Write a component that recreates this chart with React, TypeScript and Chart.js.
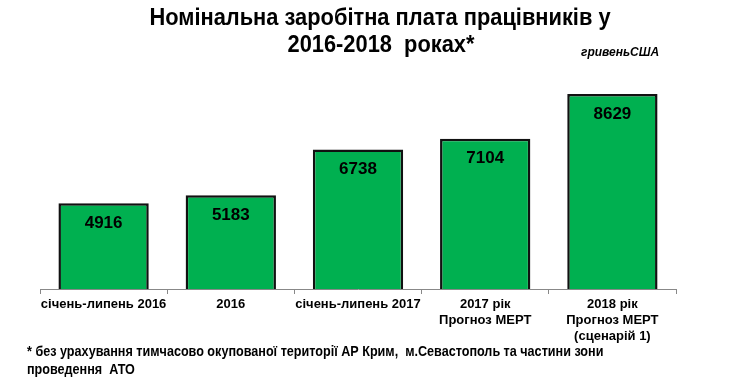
import React, { useEffect, useRef } from "react";
import { Chart, registerables } from "chart.js";

Chart.register(...registerables);

const categories: string[][] = [
  ["січень-липень 2016"],
  ["2016"],
  ["січень-липень 2017"],
  ["2017 рік", "Прогноз МЕРТ"],
  ["2018 рік", "Прогноз МЕРТ", "(сценарій 1)"],
];
const values: number[] = [4916, 5183, 6738, 7104, 8629];
const titleLines: string[] = ["Номінальна заробітна плата працівників у", "2016-2018  роках*"];
const unitLabel = "гривеньСША";
const footnoteLines: string[] = [
  "* без урахування тимчасово окупованої території АР Крим,  м.Севастополь та частини зони",
  "проведення  АТО",
];

const SANS = '"Liberation Sans", Arial, sans-serif';

function fillCondensed(ctx: any, text: string, x: number, y: number, sx: number) {
  ctx.save();
  ctx.translate(x, y);
  ctx.scale(sx, 1);
  ctx.fillText(text, 0, 0);
  ctx.restore();
}

const decorPlugin = {
  id: "decor",
  afterDraw(chart: any) {
    const ctx = chart.ctx;
    ctx.save();
    ctx.fillStyle = "#000";
    ctx.textAlign = "center";
    ctx.textBaseline = "middle";
    ctx.font = `bold 24px ${SANS}`;
    fillCondensed(ctx, titleLines[0], 380, 18, 0.91);
    fillCondensed(ctx, titleLines[1], 381, 45, 0.91);
    ctx.font = `italic bold 12px ${SANS}`;
    ctx.textAlign = "left";
    ctx.fillText(unitLabel, 581, 53);
    ctx.font = `bold 14px ${SANS}`;
    fillCondensed(ctx, footnoteLines[0], 27, 352, 0.9);
    fillCondensed(ctx, footnoteLines[1], 27, 370, 0.9);
    ctx.font = `bold 17px ${SANS}`;
    ctx.textAlign = "center";
    const meta = chart.getDatasetMeta(0);
    meta.data.forEach((bar: any, i: number) => {
      ctx.fillText(String(values[i]), bar.x, bar.y + 20);
    });
    ctx.restore();
  },
};

export default function App() {
  const ref = useRef<HTMLCanvasElement>(null);
  useEffect(() => {
    if (!ref.current) return;
    const chart = new Chart(ref.current, {
      type: "bar",
      data: {
        labels: categories,
        datasets: [
          {
            data: values,
            backgroundColor: "#00B050",
            borderColor: "#111",
            borderWidth: 2.5,
            categoryPercentage: 1,
            barPercentage: 0.71,
          },
        ],
      },
      options: {
        responsive: false,
        animation: false,
        layout: { padding: { left: 40, right: 68, top: 83, bottom: 0 } },
        plugins: { legend: { display: false }, tooltip: { enabled: false } },
        scales: {
          x: {
            offset: true,
            grid: { display: true, drawOnChartArea: false, offset: true, tickLength: 5, color: "#888" },
            border: { display: true, color: "#888", width: 1 },
            ticks: {
              color: "#000",
              font: { family: SANS, size: 13, weight: "bold" },
              padding: 3,
              maxRotation: 0,
              autoSkip: false,
            },
            afterFit(scale: any) {
              scale.height = 101;
            },
          },
          y: { display: false, min: 2000, max: 9000 },
        },
      },
      plugins: [decorPlugin],
    });
    return () => chart.destroy();
  }, []);
  return (
    <div style={{ position: "fixed", left: 0, top: 0, width: 744, height: 390, background: "#fff" }}>
      <canvas ref={ref} width={744} height={390} />
    </div>
  );
}
